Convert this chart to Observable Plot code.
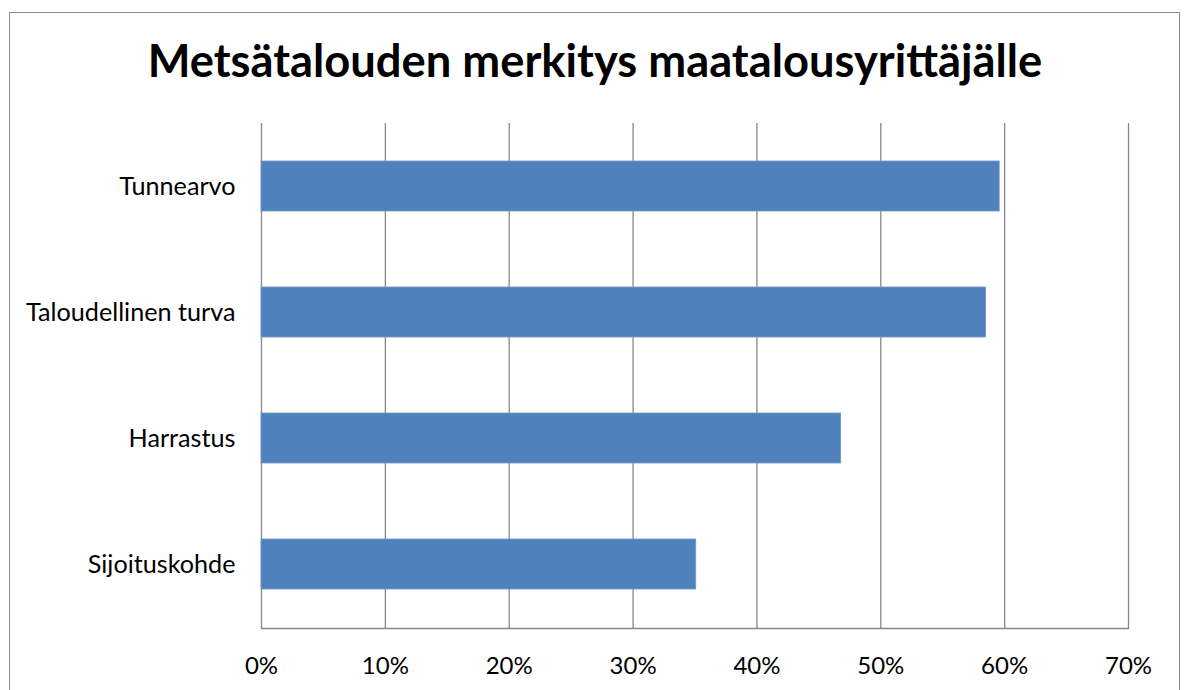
<!DOCTYPE html>
<html>
<head>
<meta charset="utf-8">
<script src="https://cdn.jsdelivr.net/npm/d3@7"></script>
<script src="https://cdn.jsdelivr.net/npm/@observablehq/plot@0.6"></script>
<style>
  html, body { margin: 0; padding: 0; background: #fff; overflow: hidden; }
  #wrap { position: relative; width: 1187px; height: 690px; overflow: hidden; }
  #border { position: absolute; left: 9px; top: 12px; width: 1171px; height: 720px; border: 1px solid #8c8c8c; box-sizing: border-box; }
  #title { position: absolute; left: 0; width: 1190px; top: 37px; text-align: center;
           font-family: Lato, sans-serif; font-weight: 700; font-size: 45.3px; line-height: 1; color: #000; }
  #chart { position: absolute; left: 0; top: 0; }
</style>
</head>
<body>
<div id="wrap">
  <div id="border"></div>
  <div id="title">Metsätalouden merkitys maatalousyrittäjälle</div>
  <div id="chart"></div>
</div>
<script>
const categories = ["Tunnearvo", "Taloudellinen turva", "Harrastus", "Sijoituskohde"];
const values = [0.596, 0.585, 0.468, 0.351];
const xTicks = [0, 0.1, 0.2, 0.3, 0.4, 0.5, 0.6, 0.7];

const data = categories.map((c, i) => ({category: c, value: values[i]}));

const chart = Plot.plot({
  width: 1187,
  height: 690,
  marginLeft: 261,
  marginRight: 59,
  marginTop: 123,
  marginBottom: 62,
  style: {fontFamily: "Lato, sans-serif", fontSize: "24px", color: "#000", background: "transparent"},
  x: {domain: [0, 0.7], ticks: xTicks, tickFormat: d3.format(".0%"), label: null},
  y: {domain: categories, paddingInner: 0.6, paddingOuter: 0.3, label: null},
  marks: [
    Plot.gridX(xTicks, {stroke: "#878787", strokeOpacity: 1, strokeWidth: 1.3}),
    Plot.frame({anchor: "bottom", stroke: "#878787", strokeWidth: 1.3}),
    Plot.barX(data, {x: "value", y: "category", fill: "#4F81BD", stroke: "#6f97c9", strokeWidth: 0.8}),
    Plot.axisX(xTicks, {tickSize: 0, tickPadding: 28, fontSize: 24, tickFormat: d3.format(".0%"), label: null}),
    Plot.axisY({tickSize: 0, tickPadding: 26, fontSize: 25.2, label: null})
  ]
});
document.getElementById("chart").appendChild(chart);
</script>
</body>
</html>
